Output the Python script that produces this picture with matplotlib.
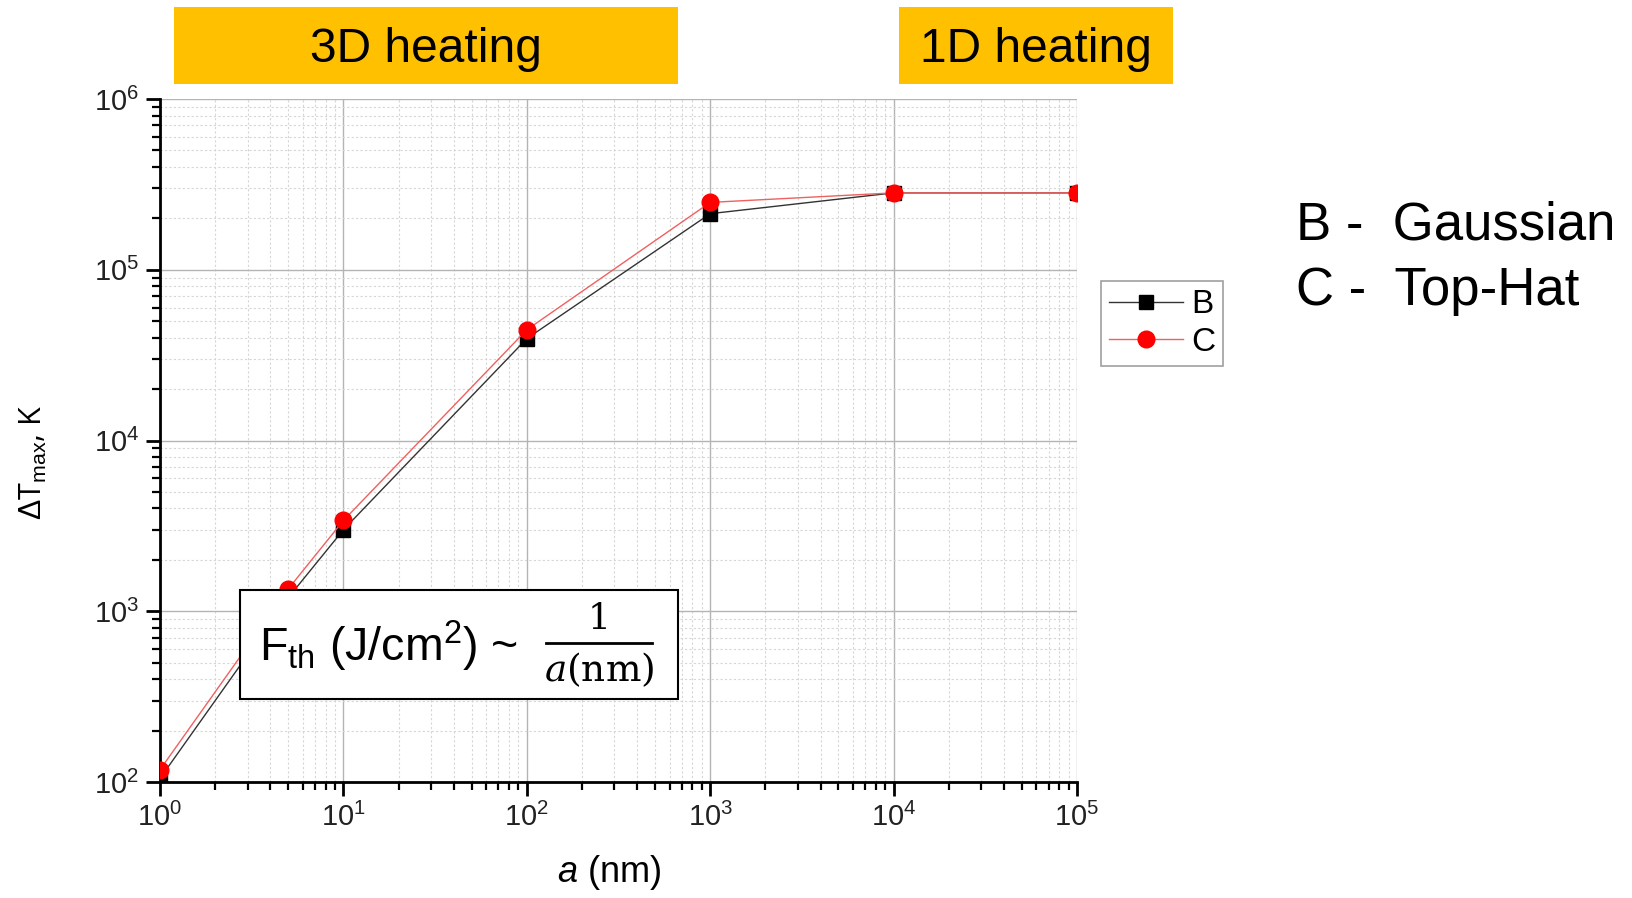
import matplotlib
matplotlib.use("Agg")
import matplotlib.pyplot as plt
from matplotlib.patches import Rectangle
from matplotlib.lines import Line2D
from matplotlib.ticker import LogLocator, NullFormatter

plt.rcParams['font.family'] = ['Liberation Sans', 'DejaVu Sans']
plt.rcParams['mathtext.fontset'] = 'custom'
plt.rcParams['mathtext.rm'] = 'Liberation Sans'
plt.rcParams['mathtext.it'] = 'Liberation Sans:italic'

# Data
a_nm = [1, 5, 10, 100, 1000, 10000, 100000]
B_gaussian = [105, 1200, 3000, 39500, 213000, 282000, 282000]
C_tophat = [118, 1350, 3400, 44500, 248000, 282000, 282000]
series_labels = ['B', 'C']
x_ticks = [1e0, 1e1, 1e2, 1e3, 1e4, 1e5]
y_ticks = [1e2, 1e3, 1e4, 1e5, 1e6]

W, H = 1633, 898
fig = plt.figure(figsize=(W / 100, H / 100), dpi=100)

def fx(x):
    return x / W

def fy(y):
    return 1 - y / H

L, R, T, Bt = 160, 1077, 99, 782
ax = fig.add_axes([fx(L), fy(Bt), fx(R) - fx(L), fy(T) - fy(Bt)])
ax.set_xscale('log')
ax.set_yscale('log')
ax.set_xlim(1, 1e5)
ax.set_ylim(1e2, 1e6)

ax.plot(a_nm, B_gaussian, color='#333333', lw=1.0, marker='s', ms=9.5,
        mfc='black', mec='black', label=series_labels[0], zorder=3)
ax.plot(a_nm, C_tophat, color='#f06060', lw=1.0, marker='o', ms=12,
        mfc='#ff0000', mec='#ff0000', label=series_labels[1], zorder=4)

ax.set_xticks(x_ticks)
ax.set_yticks(y_ticks)
ax.xaxis.set_minor_locator(LogLocator(base=10, subs=range(2, 10), numticks=20))
ax.yaxis.set_minor_locator(LogLocator(base=10, subs=range(2, 10), numticks=20))
ax.xaxis.set_minor_formatter(NullFormatter())
ax.yaxis.set_minor_formatter(NullFormatter())
ax.set_xticklabels([r'$10^{%d}$' % i for i in range(0, 6)])
ax.set_yticklabels([r'$10^{%d}$' % i for i in range(2, 7)])

ax.grid(which='major', color='#b4b4b4', lw=1.0, ls='-')
ax.grid(which='minor', color='#d6d6d6', lw=0.8, ls=(0, (2, 2)))
ax.set_axisbelow(True)

for s in ['top', 'right']:
    ax.spines[s].set_visible(False)
for s in ['left', 'bottom']:
    ax.spines[s].set_linewidth(2.0)
ax.tick_params(which='major', direction='out', length=10, width=2.0,
               labelsize=21, labelcolor='#222222', pad=5)
ax.tick_params(which='minor', direction='out', length=6, width=1.6)

leg = ax.legend(loc='upper left', bbox_to_anchor=(fx(1101), fy(281)),
                bbox_transform=fig.transFigure, fontsize=24, frameon=True,
                fancybox=False, edgecolor='#888888', handlelength=2.2,
                handletextpad=0.25, borderpad=0.25, labelspacing=0.2,
                borderaxespad=0)
leg.get_frame().set_linewidth(1.2)

# Axis labels
fig.text(fx(609), fy(873), r'$a$ (nm)', fontsize=26, ha='center', va='center')
fig.text(fx(33), fy(462), r'$\Delta$T$_{\rm max}$, K', fontsize=22, rotation=90,
         ha='center', va='center', family=['Open Sans', 'DejaVu Sans'])

# Yellow heating boxes
for (x0, x1, txt) in [(174, 678, '3D heating'), (899, 1173, '1D heating')]:
    fig.patches.append(Rectangle((fx(x0), fy(84)), fx(x1) - fx(x0), fy(7) - fy(84),
                                 transform=fig.transFigure, facecolor='#FFC000',
                                 edgecolor='none', zorder=0))
    fig.text(fx((x0 + x1) / 2), fy(49), txt, fontsize=34.5, ha='center', va='center')

# Side legend text
fig.text(fx(1296), fy(225), 'B -  Gaussian', fontsize=38, ha='left', va='center')
fig.text(fx(1296), fy(291), 'C -  Top-Hat', fontsize=38, ha='left', va='center')

# Formula box
fig.patches.append(Rectangle((fx(240), fy(699)), fx(678) - fx(240), fy(590) - fy(699),
                             transform=fig.transFigure, facecolor='white',
                             edgecolor='black', lw=1.5, zorder=5))
fig.text(fx(259), fy(646), r'F$_{\rm th}$ (J/cm$^{2}$) ~', fontsize=33.5,
         ha='left', va='center', zorder=6)
fig.text(fx(599), fy(619), '1', fontsize=26, ha='center', va='center',
         family=['DejaVu Serif'], zorder=6)
fig.lines.append(Line2D([fx(546), fx(652)], [fy(643), fy(643)],
                        transform=fig.transFigure, color='black', lw=2, zorder=6))
fig.text(fx(599), fy(670), r'$\mathit{a}$(nm)', fontsize=27, ha='center', va='center',
         family=['DejaVu Serif'], math_fontfamily='dejavuserif', zorder=6)

fig.savefig('out.png', dpi=100)
